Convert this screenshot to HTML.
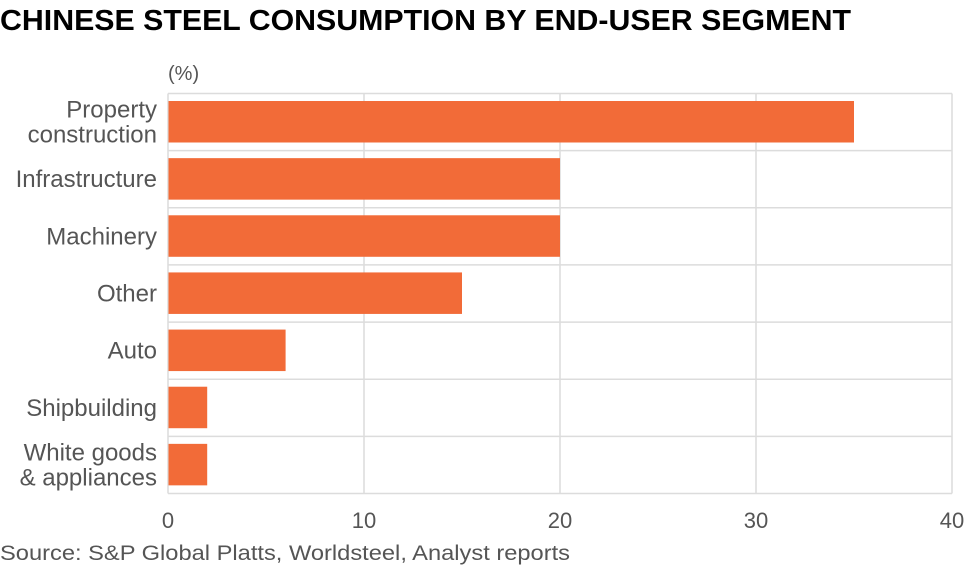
<!DOCTYPE html>
<html><head><meta charset="utf-8"><style>
body{margin:0;background:#fff;width:980px;height:568px;overflow:hidden;font-family:"Liberation Sans",sans-serif}
</style></head><body>
<svg width="980" height="568">
<text x="0" y="30" font-size="29" font-weight="bold" fill="#000" font-family="Liberation Sans" textLength="851" lengthAdjust="spacingAndGlyphs">CHINESE STEEL CONSUMPTION BY END-USER SEGMENT</text>
<text x="168" y="80" font-size="20" fill="#555">(%)</text>
<g id="grid"></g><g id="bars"></g><g id="ylabels"></g><g id="xticks"></g>
<text x="0" y="560" font-size="21" fill="#555" textLength="570" lengthAdjust="spacingAndGlyphs">Source: S&amp;P Global Platts, Worldsteel, Analyst reports</text>
</svg>
<script>
const categories=[["Property","construction"],["Infrastructure"],["Machinery"],["Other"],["Auto"],["Shipbuilding"],["White goods","& appliances"]];
const values=[35,20,20,15,6,2,2];
const ticks=[0,10,20,30,40];
const NS="http://www.w3.org/2000/svg";
const x0=168,x1=952,yTop=93.5,yBot=493.5,xmax=40;
const xs=v=>x0+(v/xmax)*(x1-x0);
const rh=(yBot-yTop)/categories.length;
function mk(t,a,p){const e=document.createElementNS(NS,t);for(const k in a)e.setAttribute(k,a[k]);p.appendChild(e);return e;}
const g=document.getElementById('grid'),b=document.getElementById('bars'),yl=document.getElementById('ylabels'),xt=document.getElementById('xticks');
ticks.forEach(t=>{const l=mk('line',{x1:xs(t),x2:xs(t),y1:yTop,y2:yBot,stroke:'#dcdcdc','stroke-width':1.5},g);


const tx=mk('text',{x:xs(t),y:528,'font-size':22,fill:'#555','text-anchor':'middle'},xt);tx.textContent=t;

});
for(let i=0;i<=categories.length;i++){const l=mk('line',{x1:x0,x2:x1,y1:yTop+i*rh,y2:yTop+i*rh,stroke:'#dcdcdc','stroke-width':1.5},g);

}
categories.forEach((c,i)=>{const y=yTop+i*rh;
const r=mk('rect',{x:x0+0.5,y:y+7.5,width:xs(values[i])-x0-0.5,height:41.5,fill:'#f26b38'},b);


const cy=y+rh/2;
c.forEach((ln,j)=>{const t=mk('text',{x:157,y:cy+8+(j-(c.length-1)/2)*25,'font-size':24,fill:'#555','text-anchor':'end'},yl);t.textContent=ln;

});});
</script>
</body></html>
